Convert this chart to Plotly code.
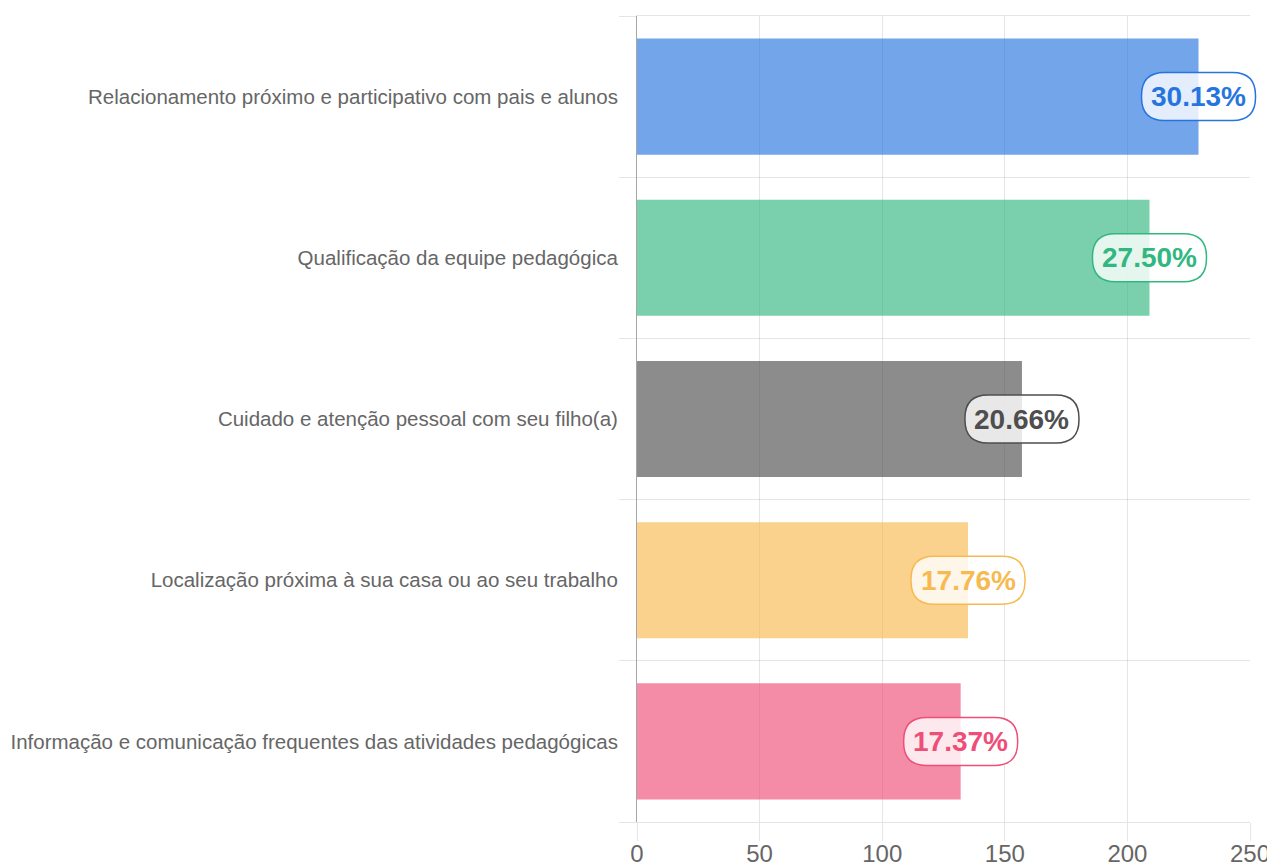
import plotly.graph_objects as go

categories = [
    "Relacionamento próximo e participativo com pais e alunos",
    "Qualificação da equipe pedagógica",
    "Cuidado e atenção pessoal com seu filho(a)",
    "Localização próxima à sua casa ou ao seu trabalho",
    "Informação e comunicação frequentes das atividades pedagógicas",
]
values = [229, 209, 157, 135, 132]
pct_labels = ["30.13%", "27.50%", "20.66%", "17.76%", "17.37%"]
x_ticks = [0, 50, 100, 150, 200, 250]
x_range = [0, 250]

base_rgb = [(38, 117, 223), (50, 183, 128), (78, 78, 78), (247, 186, 80), (238, 78, 120)]
bar_colors = [f"rgba({r},{g},{b},0.65)" for r, g, b in base_rgb]
line_colors = [f"rgb({r},{g},{b})" for r, g, b in base_rgb]

FONT = "Liberation Sans, Arial, Helvetica, sans-serif"
GRID = "rgba(0,0,0,0.1)"

pos = list(range(len(categories)))           # category slots on the y axis
bounds = [p - 0.5 for p in pos] + [pos[-1] + 0.5]  # category boundaries

fig = go.Figure()
fig.add_trace(go.Bar(
    x=values, y=pos, orientation="h",
    marker=dict(color=bar_colors, line=dict(width=0)),
    customdata=categories, hovertemplate="%{customdata}: %{x}<extra></extra>",
))


def pill_path(w, h, r):
    hw, hh = w / 2, h / 2
    return (f"M {-hw + r},{-hh} L {hw - r},{-hh} "
            f"Q {hw},{-hh} {hw},{-hh + r} L {hw},{hh - r} "
            f"Q {hw},{hh} {hw - r},{hh} L {-hw + r},{hh} "
            f"Q {-hw},{hh} {-hw},{hh - r} L {-hw},{-hh + r} "
            f"Q {-hw},{-hh} {-hw + r},{-hh} Z")


for i, (v, p, lab) in enumerate(zip(values, pos, pct_labels)):
    # anchor on the x axis scale expressed as a fraction of the plot width (avoids clipping)
    x_frac = (v - x_range[0]) / (x_range[1] - x_range[0])
    fig.add_shape(
        type="path", xref="paper", yref="y",
        xsizemode="pixel", ysizemode="pixel",
        xanchor=x_frac, yanchor=p,
        path=pill_path(114, 48, 23),
        fillcolor="rgba(255,255,255,0.8)",
        line=dict(color=line_colors[i], width=1.5),
        layer="above",
    )
    fig.add_annotation(
        x=v, y=p, xref="x", yref="y", text=f"<b>{lab}</b>", showarrow=False,
        font=dict(family=FONT, size=28, color=line_colors[i]),
        xanchor="center", yanchor="middle",
    )

fig.update_layout(
    width=1267, height=857,
    margin=dict(l=629, r=25, t=8, b=43),
    paper_bgcolor="white", plot_bgcolor="white",
    bargap=0.28, showlegend=False,
    font=dict(family=FONT, color="#666"),
)
fig.update_xaxes(
    range=x_range, tickvals=x_ticks, ticktext=[str(t) for t in x_ticks],
    showgrid=True, gridcolor=GRID, gridwidth=1,
    zeroline=False, automargin=False,
    showline=True, mirror=True, linecolor=GRID, linewidth=1,
    ticks="outside", ticklen=18, tickcolor=GRID,
    ticklabelstandoff=-8,
    tickfont=dict(size=24, color="#666", family=FONT),
)
fig.update_yaxes(
    range=[bounds[-1], bounds[0]], automargin=False, zeroline=False,
    tickmode="array", tickvals=pos, ticktext=categories,
    showgrid=False, ticks="", ticklabelstandoff=14,
    minor=dict(tickmode="array", tickvals=bounds, showgrid=True,
               gridcolor=GRID, gridwidth=1, ticks="outside", ticklen=17,
               tickcolor=GRID),
    showline=True, linecolor="rgba(0,0,0,0.35)", linewidth=1,
    tickfont=dict(size=20.5, color="#666", family=FONT),
)

fig.write_html("out.html")
